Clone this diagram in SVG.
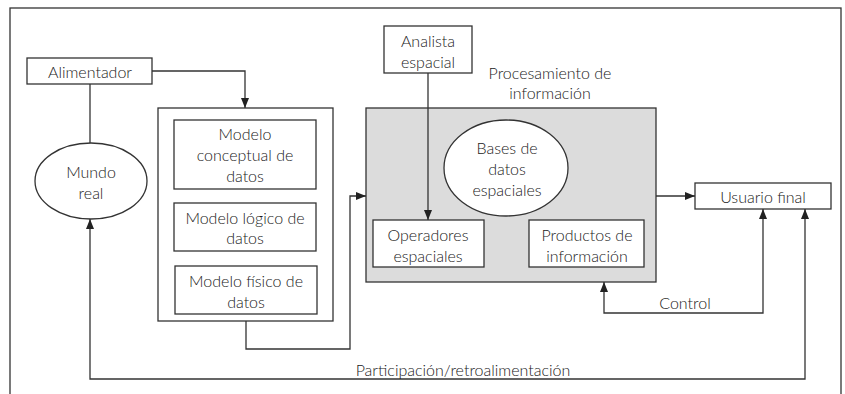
<svg xmlns="http://www.w3.org/2000/svg" width="845" height="394" viewBox="0 0 845 394">
<style>
.b{fill:#fff;stroke:#333;stroke-width:1.3}
.g{fill:#dcdcdc;stroke:#333;stroke-width:1.3}
.c{fill:none;stroke:#333;stroke-width:1.3}
text{font-family:Lato,"Liberation Sans",sans-serif;font-weight:300;font-size:16px;fill:#1a1a1a;text-anchor:middle;dominant-baseline:central}
</style>
<defs>
<marker id="a" viewBox="0 0 10 10" refX="10" refY="5" markerWidth="10" markerHeight="10" markerUnits="userSpaceOnUse" orient="auto-start-reverse">
<path d="M0,1 L10,5 L0,9 Z" fill="#222"/>
</marker>
</defs>
<rect x="0" y="0" width="845" height="394" fill="#fff"/>
<rect x="10" y="8" width="831" height="400" fill="none" stroke="#333" stroke-width="1.3"/>
<g id="alimentador"><rect class="b" x="27" y="58" width="125" height="26"/><text x="90" y="71">Alimentador</text></g>
<g id="mundo-real"><ellipse class="b" cx="91" cy="181" rx="56" ry="38"/><text x="91" y="171">Mundo</text><text x="91" y="192">real</text></g>
<g id="modelos"><rect class="b" x="158" y="108" width="175" height="213"/></g>
<g id="modelo-conceptual"><rect class="b" x="174" y="120" width="142" height="69"/><text x="245" y="133">Modelo</text><text x="245" y="154">conceptual de</text><text x="245" y="175">datos</text></g>
<g id="modelo-logico"><rect class="b" x="174" y="203" width="142" height="48"/><text x="245" y="217">Modelo lógico de</text><text x="245" y="237">datos</text></g>
<g id="modelo-fisico"><rect class="b" x="175" y="266" width="142" height="48"/><text x="246" y="280">Modelo físico de</text><text x="246" y="301">datos</text></g>
<g id="procesamiento"><rect class="g" x="366" y="108" width="290" height="174"/><text x="550" y="72">Procesamiento de</text><text x="550" y="92">información</text></g>
<g id="analista"><rect class="b" x="384" y="26" width="88" height="47"/><text x="428" y="40">Analista</text><text x="428" y="61">espacial</text></g>
<g id="bases"><ellipse class="b" cx="506" cy="168" rx="62" ry="48"/><text x="507" y="147">Bases de</text><text x="507" y="168">datos</text><text x="507" y="189">espaciales</text></g>
<g id="operadores"><rect class="b" x="373" y="220" width="111" height="47"/><text x="428" y="234">Operadores</text><text x="428" y="255">espaciales</text></g>
<g id="productos"><rect class="b" x="529" y="220" width="115" height="47"/><text x="587" y="234">Productos de</text><text x="587" y="255">información</text></g>
<g id="usuario"><rect class="b" x="695" y="183" width="136" height="26"/><text x="763" y="196">Usuario final</text></g>
<g id="connectors">
<path class="c" d="M152,71 H245 V108" marker-end="url(#a)"/>
<path class="c" d="M90,84 V143"/>
<path class="c" d="M246,321 V349 H350 V196 H366" marker-end="url(#a)"/>
<path class="c" d="M428,73 V220" marker-end="url(#a)"/>
<path class="c" d="M656,196 H695" marker-end="url(#a)"/>
<path class="c" d="M763,209 V313 H604 V282" marker-start="url(#a)" marker-end="url(#a)"/>
<path class="c" d="M805,209 V379 H90 V219" marker-start="url(#a)" marker-end="url(#a)"/>
<text x="685" y="302">Control</text>
<text x="463" y="369">Participación/retroalimentación</text>
</g>
</svg>
